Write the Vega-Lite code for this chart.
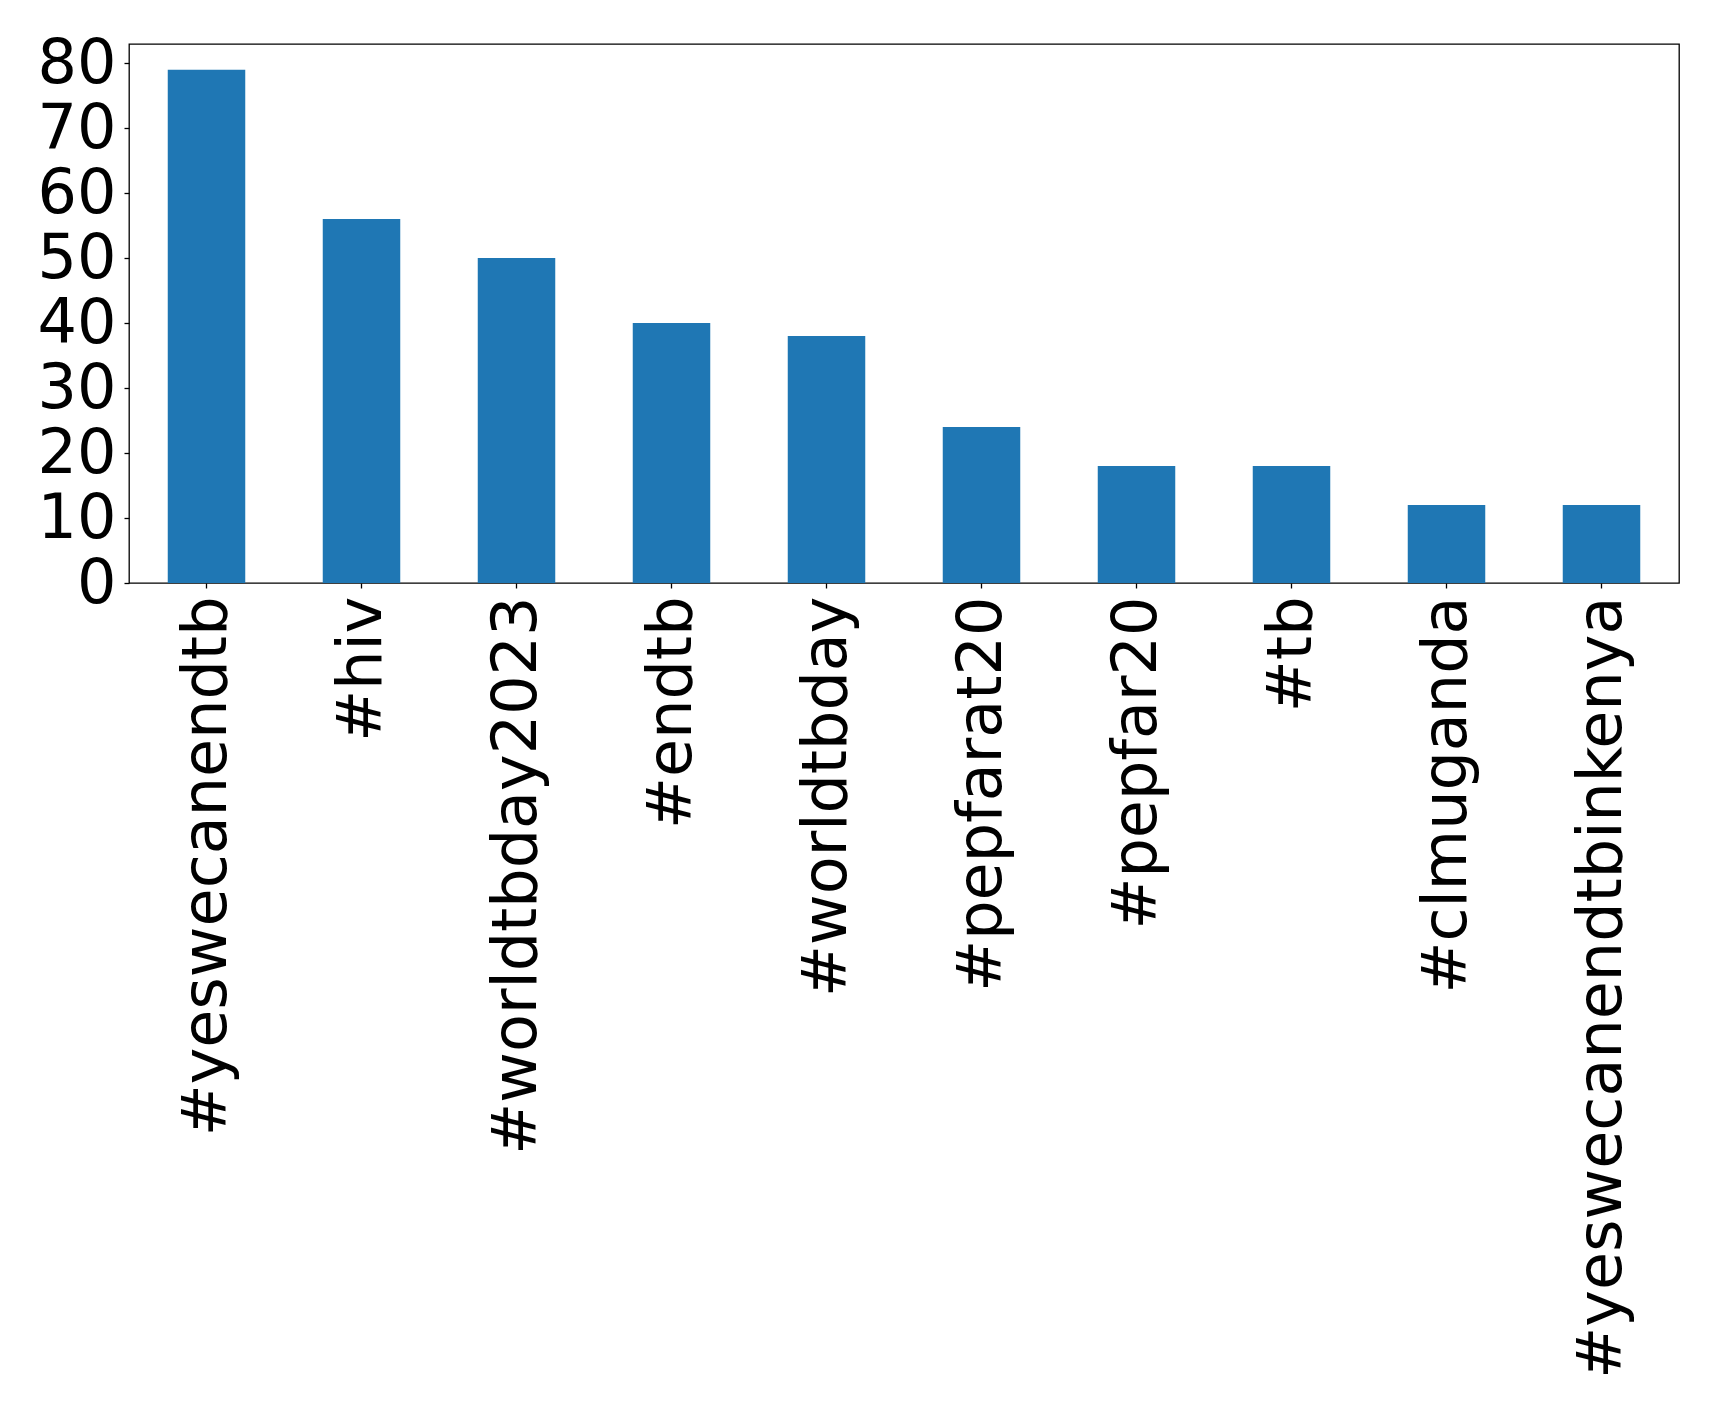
{
  "$schema": "https://vega.github.io/schema/vega-lite/v6.json",
  "width": 1550,
  "height": 539,
  "autosize": {"type": "none"},
  "padding": {"left": 129, "top": 44, "right": 40, "bottom": 838},
  "background": "white",
  "config": {
    "view": {"stroke": "black", "strokeWidth": 1.3},
    "font": "DejaVu Sans",
    "axis": {
      "domain": false,
      "grid": false,
      "tickColor": "black",
      "tickSize": 5,
      "tickWidth": 1.3,
      "labelColor": "black",
      "labelFont": "DejaVu Sans",
      "labelFontSize": 62,
      "title": null
    }
  },
  "data": {
    "values": [
      {"tag": "#yeswecanendtb", "count": 79},
      {"tag": "#hiv", "count": 56},
      {"tag": "#worldtbday2023", "count": 50},
      {"tag": "#endtb", "count": 40},
      {"tag": "#worldtbday", "count": 38},
      {"tag": "#pepfarat20", "count": 24},
      {"tag": "#pepfar20", "count": 18},
      {"tag": "#tb", "count": 18},
      {"tag": "#clmuganda", "count": 12},
      {"tag": "#yeswecanendtbinkenya", "count": 12}
    ]
  },
  "mark": {"type": "bar", "color": "#1f77b4"},
  "encoding": {
    "x": {
      "field": "tag",
      "type": "nominal",
      "sort": null,
      "scale": {"paddingInner": 0.5, "paddingOuter": 0.25},
      "axis": {"labelAngle": -90, "labelPadding": 8, "labelLimit": 0}
    },
    "y": {
      "field": "count",
      "type": "quantitative",
      "scale": {"domain": [0, 82.95], "nice": false, "zero": true},
      "axis": {"values": [0, 10, 20, 30, 40, 50, 60, 70, 80], "labelPadding": 8, "labelOverlap": false}
    }
  }
}
